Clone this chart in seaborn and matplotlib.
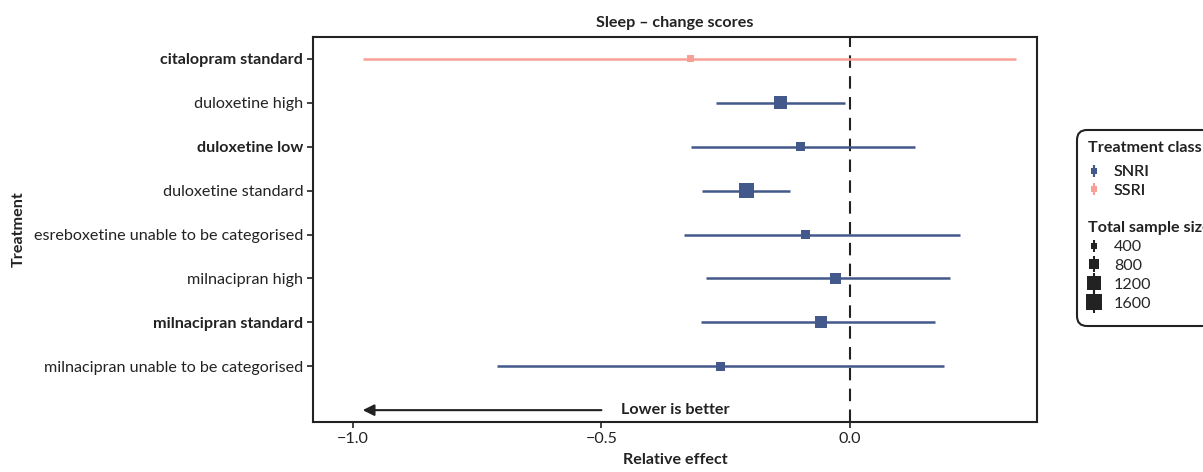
import numpy as np
import pandas as pd
import matplotlib
matplotlib.use("Agg")
import matplotlib.pyplot as plt
from matplotlib.lines import Line2D
from matplotlib.patches import FancyBboxPatch
import seaborn as sns

## data
treatments = ["citalopram standard", "duloxetine high", "duloxetine low", "duloxetine standard",
              "esreboxetine unable to be categorised", "milnacipran high", "milnacipran standard",
              "milnacipran unable to be categorised"]
classes = ["SSRI", "SNRI", "SNRI", "SNRI", "SNRI", "SNRI", "SNRI", "SNRI"]
estimate = [-0.32, -0.139, -0.10, -0.209, -0.09, -0.03, -0.058, -0.26]
lower = [-0.98, -0.27, -0.32, -0.298, -0.334, -0.29, -0.30, -0.71]
upper = [0.334, -0.01, 0.131, -0.121, 0.221, 0.201, 0.171, 0.189]
sample_size = [520, 1255, 714, 1600, 745, 960, 1100, 714]
bold_rows = ["citalopram standard", "duloxetine low", "milnacipran standard"]

legend_sizes = [400, 800, 1200, 1600]
class_colors = {"SNRI": "#44598b", "SSRI": "#f8a095"}

df = pd.DataFrame({"treatment": treatments, "cls": classes, "est": estimate,
                   "lo": lower, "hi": upper, "n": sample_size})

sns.set_theme(style="ticks")
plt.rcParams["font.family"] = ["Lato", "DejaVu Sans"]
plt.rcParams["axes.unicode_minus"] = True
fs = 11.6
ink = "#222222"

fig = plt.figure(figsize=(12.03, 4.72), dpi=100)
ax = fig.add_axes([313/1203, 1-422/472, (1037-313)/1203, (422-37)/472])

# marker area grows linearly with sample size
s_lo, s_hi = 15.6, 116.6
def s_of(n):
    return s_lo + (n - 400) * (s_hi - s_lo) / 1200

# confidence intervals
ax.hlines(y=df["treatment"], xmin=df["lo"], xmax=df["hi"],
          colors=[class_colors[c] for c in df["cls"]], linewidth=1.8, zorder=2)

sns.scatterplot(data=df, x="est", y="treatment", hue="cls", palette=class_colors,
                size="n", sizes=(s_lo, s_hi), size_norm=(400, 1600),
                marker="s", linewidth=0, legend=False, ax=ax, zorder=3)

ax.axvline(0, color=ink, linestyle=(0, (6, 4)), linewidth=1.5, zorder=1)

ax.set_ylim(len(treatments) - 1 + 1.27, -0.5)
ax.set_xlim(-1.08, 0.376)
ax.set_xticks([-1.0, -0.5, 0.0])
ax.set_xticklabels(["\u22121.0", "\u22120.5", "0.0"])
ax.set_yticks(range(len(treatments)))
ax.set_yticklabels(treatments)
for lbl in ax.get_yticklabels():
    if lbl.get_text() in bold_rows:
        lbl.set_fontweight("bold")

ax.tick_params(axis="both", labelsize=fs, colors=ink, length=4, width=1.2, pad=3)
for sp in ax.spines.values():
    sp.set_visible(True)
    sp.set_color(ink)
    sp.set_linewidth(1.5)

ax.set_title("Sleep \u2013 change scores", fontsize=fs, fontweight="bold", color=ink, pad=7)
ax.set_xlabel("Relative effect", fontsize=fs, fontweight="bold", color=ink, labelpad=5)
ax.set_ylabel("Treatment", fontsize=fs, fontweight="bold", color=ink, labelpad=6)

# arrow row
arrow_y = len(treatments)
ax.annotate("", xy=(-0.98, arrow_y), xytext=(-0.5, arrow_y),
            arrowprops=dict(arrowstyle="-|>", color=ink, lw=1.5,
                            mutation_scale=17, shrinkA=0, shrinkB=0))
ax.text(-0.46, arrow_y, "Lower is better", fontsize=fs, fontweight="bold",
        color=ink, va="center", ha="left")

## legends
def handle(color, n, extra=1.0):
    ms = np.sqrt(s_of(n)) * extra
    return (Line2D([], [], color=color, marker="|", markersize=ms + 4,
                   markeredgewidth=1.5, linestyle="none"),
            Line2D([], [], color=color, marker="s", markersize=ms,
                   markeredgewidth=0, linestyle="none"))

leg_x = 1088/1203
fig.text(leg_x, 1-148/472, "Treatment class", fontsize=fs, fontweight="bold",
         color=ink, ha="left", va="center")
fig.text(leg_x, 1-228/472, "Total sample size", fontsize=fs, fontweight="bold",
         color=ink, ha="left", va="center")

h1 = [handle(class_colors[c], 400) for c in ["SNRI", "SSRI"]]
leg1 = fig.legend(h1, ["SNRI", "SSRI"], loc="upper left",
                  bbox_to_anchor=(leg_x, 1-165/472), frameon=False, fontsize=fs,
                  handlelength=0.7, handletextpad=0.9, labelspacing=0.28, borderpad=0,
                  borderaxespad=0)
h2 = [handle(ink, n, 1.1) for n in legend_sizes]
leg2 = fig.legend(h2, [str(n) for n in legend_sizes], loc="upper left",
                  bbox_to_anchor=(leg_x, 1-240/472), frameon=False, fontsize=fs,
                  handlelength=0.7, handletextpad=0.9, labelspacing=0.28, borderpad=0,
                  borderaxespad=0)
fig.add_artist(leg1)

box = FancyBboxPatch((10.77, 4.72 - 3.26), 2.0, 1.96,
                     boxstyle="round,pad=0,rounding_size=0.1",
                     transform=fig.dpi_scale_trans, fill=False,
                     edgecolor=ink, linewidth=1.5)
fig.patches.append(box)

fig.savefig("out.png", dpi=100)
